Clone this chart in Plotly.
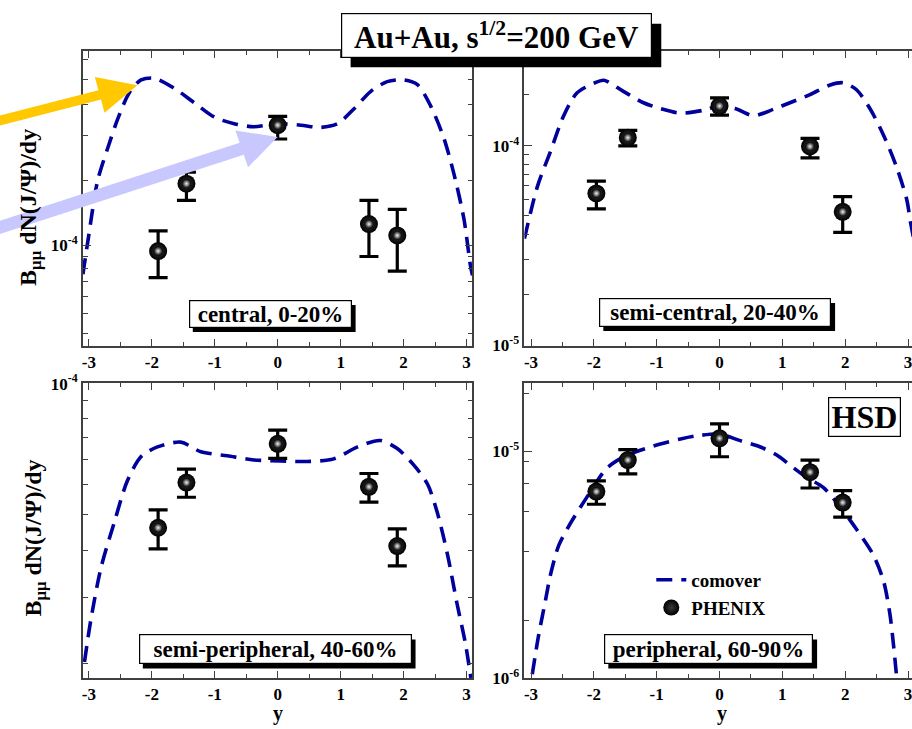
import math
import plotly.graph_objects as go

FIG_W, FIG_H = 912, 729
SERIF = "Liberation Serif"
CURVE_BLUE = "#00009c"
AXIS_GREY = "#404040"

# ---------------- data ----------------
# PHENIX rapidity bins (left column / right column panels)
rap_left = [-1.9, -1.45, 0.0, 1.45, 1.9]
rap_right = [-1.96, -1.46, 0.0, 1.44, 1.96]

# PHENIX B_mumu dN/dy: central values, upper and lower ends of the error bars
central_val = [9.48e-5, 1.747e-4, 2.97e-4, 1.211e-4, 1.092e-4]
central_hi = [1.138e-4, 1.94e-4, 3.22e-4, 1.50e-4, 1.383e-4]
central_lo = [7.45e-5, 1.50e-4, 2.62e-4, 9.02e-5, 7.9e-5]

semicentral_val = [5.78e-5, 1.099e-4, 1.583e-4, 9.93e-5, 4.67e-5]
semicentral_hi = [6.65e-5, 1.196e-4, 1.739e-4, 1.09e-4, 5.57e-5]
semicentral_lo = [4.83e-5, 1.0e-4, 1.426e-4, 8.71e-5, 3.69e-5]

semiperiph_val = [4.14e-5, 5.46e-5, 6.92e-5, 5.32e-5, 3.70e-5]
semiperiph_hi = [4.62e-5, 5.93e-5, 7.52e-5, 5.77e-5, 4.11e-5]
semiperiph_lo = [3.64e-5, 4.99e-5, 6.33e-5, 4.84e-5, 3.28e-5]

periph_val = [6.64e-6, 9.15e-6, 1.141e-5, 8.09e-6, 5.94e-6]
periph_hi = [7.40e-6, 1.017e-5, 1.32e-5, 9.15e-6, 6.71e-6]
periph_lo = [5.84e-6, 7.95e-6, 9.46e-6, 6.89e-6, 5.13e-6]

# HSD comover-absorption curves
comover_central_y = [-3.095, -3.01, -2.86, -2.70, -2.54, -2.36, -2.17, -1.96, -1.65, -1.33,
                     -1.01, -0.69, -0.38, 0.0, 0.37, 0.68, 0.95, 1.21, 1.48, 1.74,
                     2.0, 2.22, 2.43, 2.64, 2.80, 2.96, 3.06, 3.095]
comover_central = [7.68e-5, 1.061e-4, 1.80e-4, 2.415e-4, 3.15e-4, 3.98e-4, 4.48e-4, 4.55e-4, 4.16e-4, 3.65e-4,
                   3.20e-4, 3.01e-4, 2.93e-4, 3.01e-4, 2.97e-4, 2.91e-4, 3.01e-4, 3.44e-4, 4.04e-4, 4.41e-4,
                   4.48e-4, 4.29e-4, 3.54e-4, 2.64e-4, 1.91e-4, 1.265e-4, 8.38e-5, 7.6e-5]

comover_semicentral_y = [-3.105, -2.90, -2.69, -2.48, -2.27, -2.0, -1.84, -1.53, -1.21, -0.94,
                         -0.62, -0.25, 0.0, 0.28, 0.54, 0.86, 1.12, 1.44, 1.76, 1.97,
                         2.18, 2.40, 2.61, 2.82, 2.98, 3.04, 3.1]
comover_semicentral = [3.43e-5, 6.23e-5, 9.39e-5, 1.415e-4, 1.84e-4, 2.056e-4, 2.13e-4, 1.873e-4, 1.644e-4, 1.537e-4,
                       1.458e-4, 1.508e-4, 1.583e-4, 1.525e-4, 1.415e-4, 1.525e-4, 1.644e-4, 1.804e-4, 2.018e-4, 2.07e-4,
                       1.909e-4, 1.525e-4, 1.131e-4, 7.79e-5, 5.37e-5, 4.13e-5, 3.3e-5]

comover_semiperiph_y = [-3.07, -2.97, -2.81, -2.60, -2.39, -2.17, -1.91, -1.54, -1.22, -0.80,
                        -0.38, 0.05, 0.47, 0.89, 1.27, 1.63, 1.90, 2.16, 2.38, 2.54,
                        2.70, 2.85, 2.98, 3.07]
comover_semiperiph = [1.82e-5, 2.35e-5, 3.23e-5, 4.26e-5, 5.51e-5, 6.40e-5, 6.79e-5, 6.99e-5, 6.59e-5, 6.43e-5,
                      6.27e-5, 6.23e-5, 6.21e-5, 6.31e-5, 6.79e-5, 7.06e-5, 6.72e-5, 6.08e-5, 5.41e-5, 4.52e-5,
                      3.50e-5, 2.60e-5, 2.05e-5, 1.65e-5]

comover_periph_y = [-2.98, -2.88, -2.77, -2.69, -2.56, -2.37, -2.11, -1.79, -1.47, -1.05,
                    -0.62, -0.36, 0.0, 0.33, 0.65, 0.91, 1.18, 1.39, 1.65, 1.92,
                    2.18, 2.45, 2.61, 2.71, 2.77, 2.82]
comover_periph = [1.04e-6, 1.54e-6, 2.20e-6, 2.86e-6, 3.84e-6, 4.83e-6, 6.28e-6, 8.44e-6, 9.62e-6, 1.054e-5,
                  1.133e-5, 1.17e-5, 1.19e-5, 1.114e-5, 1.044e-5, 9.62e-6, 8.44e-6, 7.65e-6, 6.93e-6, 5.69e-6,
                  4.53e-6, 3.48e-6, 2.68e-6, 1.93e-6, 1.39e-6, 1.0e-6]

x_tick_vals = [-3, -2, -1, 0, 1, 2, 3]
x_tick_text = ["-3", "-2", "-1", "0", "1", "2", "3"]
x_minor_vals = [-2.5, -1.5, -0.5, 0.5, 1.5, 2.5]

panel_labels = ["central, 0-20%", "semi-central, 20-40%",
                "semi-peripheral, 40-60%", "peripheral, 60-90%"]


# ---------------- geometry helpers (pixel -> paper) ----------------
def fx(px):
    return px / FIG_W


def fy(py):
    return 1 - py / FIG_H


def log_minor(decades, step):
    """Minor tick values inside each decade, spaced linearly by `step` x decade."""
    vals = []
    for d in decades:
        base = 10.0 ** d
        k = 1
        while step * k <= 9.0 + 1e-9:
            v = step * k
            if v > 1.0 + 1e-9:
                vals.append(v * base)
            k += 1
    return vals


panels = [
    dict(box=(82, 40, 472, 344), xr=[-3.095, 3.095], yr=[-4.396, -3.234],
         major=[1e-4], minor=log_minor([-5, -4], 0.9), mirror_y=True,
         rap=rap_left, val=central_val, hi=central_hi, lo=central_lo,
         cy=comover_central_y, cv=comover_central),
    dict(box=(524, 40, 912, 344), xr=[-3.105, 3.063], yr=[-5.0005, -3.524],
         major=[1e-5, 1e-4], minor=log_minor([-5, -4], 0.9), mirror_y=False,
         rap=rap_right, val=semicentral_val, hi=semicentral_hi, lo=semicentral_lo,
         cy=comover_semicentral_y, cv=comover_semicentral),
    dict(box=(82, 383, 472, 687), xr=[-3.095, 3.095], yr=[-4.783, -3.9995],
         major=[1e-4], minor=log_minor([-5], 0.9), mirror_y=True,
         rap=rap_left, val=semiperiph_val, hi=semiperiph_hi, lo=semiperiph_lo,
         cy=comover_semiperiph_y, cv=comover_semiperiph),
    dict(box=(524, 383, 912, 687), xr=[-3.105, 3.063], yr=[-6.0005, -4.701],
         major=[1e-6, 1e-5], minor=log_minor([-6, -5], 1.8), mirror_y=False,
         rap=rap_right, val=periph_val, hi=periph_hi, lo=periph_lo,
         cy=comover_periph_y, cv=comover_periph),
]


def sup_label(v):
    return "10<sup>%d</sup>" % round(math.log10(v))


fig = go.Figure()
tick_font = dict(family=SERIF, size=17, color="black", weight="bold")

for i, p in enumerate(panels):
    n = "" if i == 0 else str(i + 1)
    xa, ya = "x" + n, "y" + n
    x0, y0, x1, y1 = p["box"]
    show_leg = i == 3

    fig.add_trace(go.Scatter(
        x=p["cy"], y=p["cv"], mode="lines", name="comover",
        line=dict(color=CURVE_BLUE, width=3.6, dash="16px,9px", shape="spline", smoothing=0.8),
        xaxis=xa, yaxis=ya, showlegend=show_leg, hoverinfo="skip"))

    err_plus = [h - v for h, v in zip(p["hi"], p["val"])]
    err_minus = [v - l for v, l in zip(p["val"], p["lo"])]
    fig.add_trace(go.Scatter(
        x=p["rap"], y=p["val"], mode="markers", name="PHENIX",
        marker=dict(color="black", size=18, line=dict(width=0),
                    gradient=dict(type="radial", color="#3a3a3a")),
        error_y=dict(type="data", symmetric=False, array=err_plus, arrayminus=err_minus,
                     color="black", thickness=3.2, width=9.5),
        xaxis=xa, yaxis=ya, showlegend=show_leg, hoverinfo="skip"))
    # specular highlight on each ball
    fig.add_trace(go.Scatter(
        x=p["rap"], y=p["val"], mode="markers",
        marker=dict(color="black", size=9, line=dict(width=0),
                    gradient=dict(type="radial", color="#f4f4f4")),
        xaxis=xa, yaxis=ya, showlegend=False, hoverinfo="skip"))

    axx = dict(domain=[fx(x0), fx(x1)], range=p["xr"], anchor=ya,
               showline=True, linecolor=AXIS_GREY, linewidth=1.6, mirror="allticks",
               ticks="inside", ticklen=7, tickwidth=1.4, tickcolor=AXIS_GREY,
               tickmode="array", tickvals=x_tick_vals, ticktext=x_tick_text,
               ticklabeloverflow="allow",
               minor=dict(tickmode="array", tickvals=x_minor_vals, ticks="inside",
                          ticklen=4, tickwidth=1.2, tickcolor=AXIS_GREY),
               showgrid=False, zeroline=False, tickfont=tick_font)
    axy = dict(domain=[fy(y1), fy(y0)], type="log", range=p["yr"], anchor=xa,
               showline=True, linecolor=AXIS_GREY, linewidth=1.6,
               mirror="allticks" if p["mirror_y"] else False,
               ticks="inside", ticklen=8, tickwidth=1.4, tickcolor=AXIS_GREY,
               tickmode="array", tickvals=p["major"], ticktext=[sup_label(v) for v in p["major"]],
               minor=dict(tickmode="array", tickvals=p["minor"], ticks="inside",
                          ticklen=5, tickwidth=1.2, tickcolor=AXIS_GREY),
               showgrid=False, zeroline=False, tickfont=tick_font)
    fig.update_layout(**{"xaxis" + n: axx, "yaxis" + n: axy})

shapes = []
annotations = []


def rect(x0, y0, x1, y1, fill):
    return dict(type="rect", xref="paper", yref="paper", x0=fx(x0), x1=fx(x1),
                y0=fy(y1), y1=fy(y0), fillcolor=fill, line=dict(width=0), layer="above")


def boxed_text(text, x0, y0, x1, y1, size, shadow=(4, 5)):
    bw = 1.2
    if shadow:
        shapes.append(rect(x0 + shadow[0], y0 + shadow[1], x1 + shadow[0], y1 + shadow[1], "black"))
    annotations.append(dict(
        text=text, xref="paper", yref="paper", x=fx((x0 + x1) / 2), y=fy((y0 + y1) / 2),
        xanchor="center", yanchor="middle", showarrow=False,
        width=x1 - x0 - 2 * bw, height=y1 - y0 - 2 * bw, borderpad=0, borderwidth=bw,
        bordercolor="black", bgcolor="white", align="center", valign="middle",
        font=dict(family=SERIF, size=size, color="black", weight="bold")))


def arrow(start, tip, shaft_w, head_len, head_w, color):
    dx, dy = tip[0] - start[0], tip[1] - start[1]
    L = math.hypot(dx, dy)
    ux, uy = dx / L, dy / L
    nx, ny = -uy, ux
    bx, by = tip[0] - ux * head_len, tip[1] - uy * head_len
    pts = [
        (start[0] + nx * shaft_w / 2, start[1] + ny * shaft_w / 2),
        (bx + nx * shaft_w / 2, by + ny * shaft_w / 2),
        (bx + nx * head_w / 2, by + ny * head_w / 2),
        tip,
        (bx - nx * head_w / 2, by - ny * head_w / 2),
        (bx - nx * shaft_w / 2, by - ny * shaft_w / 2),
        (start[0] - nx * shaft_w / 2, start[1] - ny * shaft_w / 2),
    ]
    path = "M " + " L ".join("%.5f,%.5f" % (fx(px), fy(py)) for px, py in pts) + " Z"
    shapes.append(dict(type="path", xref="paper", yref="paper", path=path,
                       fillcolor=color, line=dict(width=0), layer="above"))


# pointer arrows
arrow((-6, 113.2), (136.5, 75.5), 10, 39, 38, "#ffc800")
arrow((-6, 223.7), (277, 129), 13, 38, 40, "#c8c8ff")

# title and panel labels
boxed_text("Au+Au, s<sup>1/2</sup>=200 GeV", 341, 2, 652, 47, 31, shadow=(9, 10))
boxed_text(panel_labels[0], 188, 297, 351, 325, 23)
boxed_text(panel_labels[1], 599, 295, 831, 324, 23)
boxed_text(panel_labels[2], 138, 642, 411, 672, 23)
boxed_text(panel_labels[3], 604, 642, 813, 672, 23)
boxed_text("HSD", 828, 398, 901, 438, 32, shadow=None)

ytitle = "B<sub>μμ</sub> dN(J/Ψ)/dy"
for cx, cy in [(29, 201), (34, 542)]:
    annotations.append(dict(text=ytitle, xref="paper", yref="paper", x=fx(cx), y=fy(cy),
                            xanchor="center", yanchor="middle", showarrow=False, textangle=-90,
                            font=dict(family=SERIF, size=24, color="black", weight="bold")))
for cx, cy in [(277, 723), (722, 723)]:
    annotations.append(dict(text="y", xref="paper", yref="paper", x=fx(cx), y=fy(cy),
                            xanchor="center", yanchor="middle", showarrow=False,
                            font=dict(family=SERIF, size=20, color="black", weight="bold")))

fig.update_layout(
    width=FIG_W, height=FIG_H,
    margin=dict(l=0, r=0, t=0, b=0),
    paper_bgcolor="white", plot_bgcolor="white",
    shapes=shapes, annotations=annotations,
    legend=dict(x=fx(651), y=fy(566), xanchor="left", yanchor="top",
                bgcolor="rgba(0,0,0,0)", borderwidth=0, tracegroupgap=0,
                font=dict(family=SERIF, size=19, color="black", weight="bold")),
    font=dict(family=SERIF, color="black"),
)

fig.write_html("out.html")
